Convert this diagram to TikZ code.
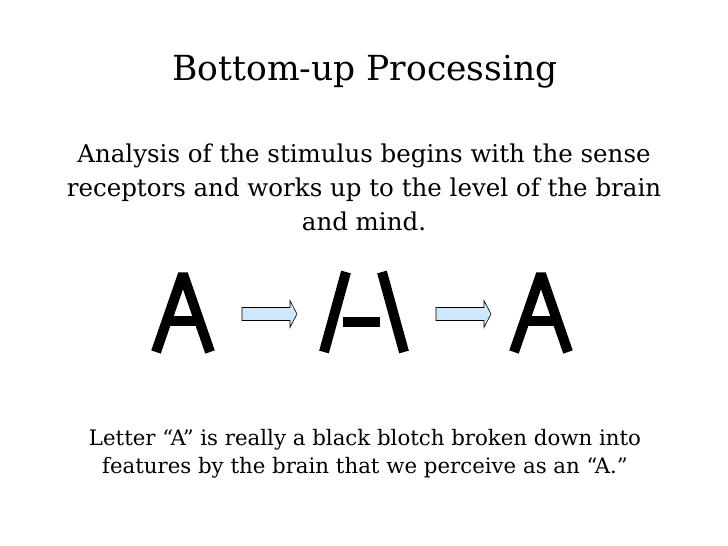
\documentclass[tikz,border=0pt]{standalone}
\usepackage{fontspec}
\setmainfont{DejaVu Serif}
\definecolor{arrblue}{RGB}{204,232,250}
\tikzset{
  arr/.style={draw=black, line width=0.6pt, fill=arrblue},
  stroke/.style={line width=10pt, line join=bevel},
  bodytxt/.style={align=center, font=\fontsize{24.5}{34}\selectfont}
}
\newcommand{\blockarrow}[1]{%
  \draw[arr] ($(#1)+(-27,-6.5)$) -- ++(48,0) -- ++(0,-7) -- ++(7,13.5) -- ++(-7,13.5) -- ++(0,-7) -- ++(-48,0) -- cycle;}
\usetikzlibrary{calc}
\begin{document}
\begin{tikzpicture}[x=1pt,y=1pt]
\useasboundingbox (0,0) rectangle (728,546);
\fill[white] (0,0) rectangle (728,546);
\node (title) at (365,474) {\fontsize{34.5}{40}\selectfont Bottom-up Processing};
\node[bodytxt] (body) at (364,359) {Analysis of the stimulus begins with the sense\\ receptors and works up to the level of the brain\\ and mind.};
% left A
\coordinate (a1) at (183,272);
\draw[stroke] (156,194) -- (a1) -- (210,194);
\draw[stroke] (166,225) -- (200,225);
% middle
\coordinate (s1) at (324,194); \coordinate (s2) at (346,274);
\coordinate (b1) at (382,274); \coordinate (b2) at (404,194);
\draw[stroke] (s1) -- (s2);
\draw[stroke] (b1) -- (b2);
\draw[stroke] (343,224) -- (380,224);
% right A
\coordinate (a2) at (541,272);
\draw[stroke] (514,194) -- (a2) -- (568,194);
\draw[stroke] (524,225) -- (558,225);
\coordinate (r1) at (269,232);
\coordinate (r2) at (463,232);
\blockarrow{r1}
\blockarrow{r2}
\node[align=center, font=\fontsize{21.3}{28}\selectfont] (foot) at (365,92) {Letter “A” is really a black blotch broken down into\\ features by the brain that we perceive as an “A.”};
\end{tikzpicture}
\end{document}
